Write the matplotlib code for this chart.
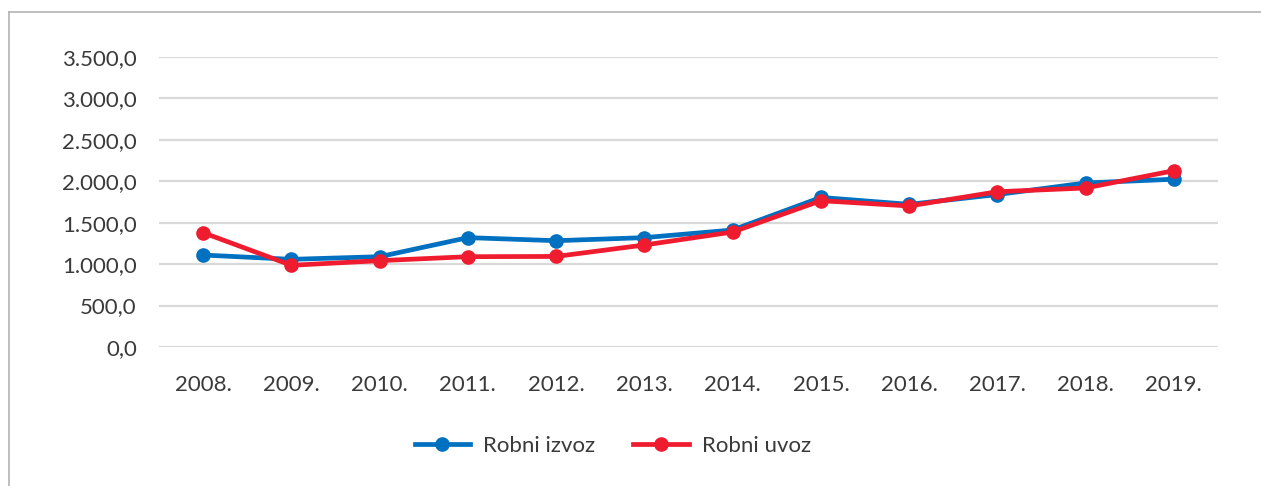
import matplotlib.pyplot as plt
from matplotlib.ticker import FuncFormatter
from matplotlib.lines import Line2D

# Podaci (očitano s grafikona)
godine = ['2008.', '2009.', '2010.', '2011.', '2012.', '2013.',
          '2014.', '2015.', '2016.', '2017.', '2018.', '2019.']
robni_izvoz = [1110, 1058, 1090, 1320, 1283, 1320, 1412, 1805, 1722, 1840, 1980, 2025]
robni_uvoz = [1380, 986, 1042, 1090, 1093, 1231, 1388, 1766, 1702, 1874, 1919, 2128]
y_ticks = [0, 500, 1000, 1500, 2000, 2500, 3000, 3500]

plava = '#0070C0'
crvena = '#EE1C2E'

plt.rcParams['font.family'] = ['Lato', 'DejaVu Sans']

fig = plt.figure(figsize=(12.61, 4.86), dpi=100)
ax = fig.add_axes([159 / 1261, 1 - 347 / 486, (1218 - 159) / 1261, (347 - 57) / 486])

x = list(range(len(godine)))
ax.plot(x, robni_izvoz, color=plava, lw=3.4, marker='o', ms=9.5, label='Robni izvoz',
        solid_joinstyle='round', zorder=3)
ax.plot(x, robni_uvoz, color=crvena, lw=3.4, marker='o', ms=9.5, label='Robni uvoz',
        solid_joinstyle='round', zorder=4)

ax.set_xlim(-0.5, len(godine) - 0.5)
ax.set_ylim(0, 3500)
ax.set_yticks(y_ticks)
ax.yaxis.set_major_formatter(FuncFormatter(
    lambda v, p: f'{v:,.1f}'.replace(',', 'X').replace('.', ',').replace('X', '.')))
ax.set_xticks(x)
ax.set_xticklabels(godine)
ax.grid(axis='y', color='#d9d9d9', lw=1.6)
ax.set_axisbelow(True)
for s in ax.spines.values():
    s.set_visible(False)
ax.tick_params(length=0, labelsize=16, colors='#3a3a3a')
ax.tick_params(axis='y', pad=16)
ax.tick_params(axis='x', pad=20)

# okvir (samo gornji i lijevi rub vidljiv)
fig.add_artist(Line2D([9 / 1261, 9 / 1261], [0, 1 - 12 / 486], color='#b3b3b3', lw=1.2))
fig.add_artist(Line2D([9 / 1261, 1], [1 - 12 / 486, 1 - 12 / 486], color='#b3b3b3', lw=1.2))

fig.legend(loc='center', bbox_to_anchor=(613 / 1261, 1 - 446 / 486), ncol=2, frameon=False,
           fontsize=16, handlelength=2.5, columnspacing=1.7, handletextpad=0.6,
           labelcolor='#3a3a3a')

fig.savefig('out.png', dpi=100)
